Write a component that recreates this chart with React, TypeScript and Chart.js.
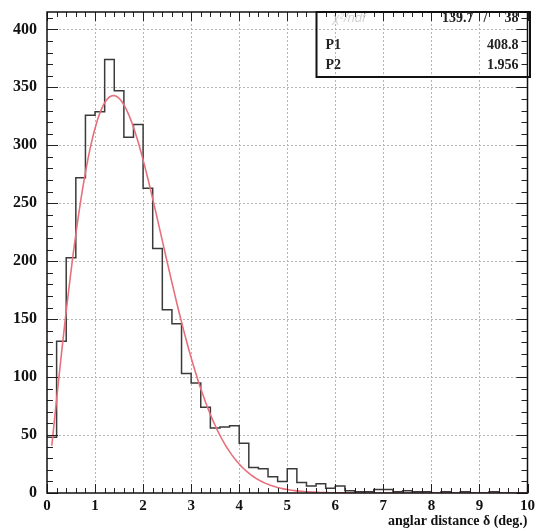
import React, { useEffect, useRef } from "react";
import { Chart, registerables } from "chart.js";

Chart.register(...registerables);

// Histogram: 50 bins of width 0.2 from 0 to 10
const binStart = 0;
const binWidth = 0.2;
const binCounts = [
  48, 131, 203, 272, 326, 329, 374, 347, 307, 318,
  263, 211, 158, 146, 103, 95, 74, 56, 57, 58,
  43, 22, 21, 14, 10, 21, 9, 6, 8, 4,
  6, 2, 1, 1, 3, 3, 1, 2, 1, 1,
  0, 1, 0, 1, 0, 0, 1, 0, 0, 0,
];

// Fit results (shown in stats box)
const chi2 = "139.7";
const ndf = "38";
const parNames = ["P1", "P2"];
const parValues = [408.8, 1.956];
const parLabels = ["408.8", "1.956"];

// Axis ticks
const xMajorTicks = [0, 1, 2, 3, 4, 5, 6, 7, 8, 9, 10];
const xMinorStep = 0.2;
const yMajorTicks = [0, 50, 100, 150, 200, 250, 300, 350, 400];
const yMinorStep = 10;
const xMin = 0;
const xMax = 10;
const yMin = 0;
const yMax = 415;
const xTitle = "anglar distance \u03b4 (deg.)";

const fitFrom = 0.1;
const fitTo = 10;
const fitStep = 0.05;

function fitFn(x: number) {
  const [p1, p2] = parValues;
  return p1 * x * Math.exp(-(x / p2) * (x / p2));
}

const SERIF = "'Liberation Serif', 'Times New Roman', serif";

const decorPlugin = {
  id: "rootDecor",
  beforeDatasetsDraw(chart: any) {
    const { ctx, chartArea: a, scales } = chart;
    const xs = scales.x;
    const ys = scales.y;
    ctx.save();
    ctx.strokeStyle = "#b5b5b5";
    ctx.lineWidth = 1;
    ctx.setLineDash([2, 2]);
    ctx.beginPath();
    for (const v of xMajorTicks) {
      if (v <= xMin || v >= xMax) continue;
      const px = Math.round(xs.getPixelForValue(v)) + 0.5;
      ctx.moveTo(px, a.top);
      ctx.lineTo(px, a.bottom);
    }
    for (const v of yMajorTicks) {
      if (v <= yMin || v >= yMax) continue;
      const py = Math.round(ys.getPixelForValue(v)) + 0.5;
      ctx.moveTo(a.left, py);
      ctx.lineTo(a.right, py);
    }
    ctx.stroke();
    ctx.restore();
  },
  afterDatasetsDraw(chart: any) {
    const { ctx, chartArea: a, scales } = chart;
    const xs = scales.x;
    const ys = scales.y;
    ctx.save();
    ctx.setLineDash([]);
    ctx.strokeStyle = "#222";
    ctx.lineWidth = 1;
    ctx.beginPath();
    // x ticks (bottom and top, inward)
    const nx = Math.round((xMax - xMin) / xMinorStep);
    for (let i = 0; i <= nx; i++) {
      const v = xMin + i * xMinorStep;
      const major = Math.abs(v - Math.round(v)) < 1e-6;
      const len = major ? 9 : 5;
      const px = Math.round(xs.getPixelForValue(v)) + 0.5;
      ctx.moveTo(px, a.bottom);
      ctx.lineTo(px, a.bottom - len);
      ctx.moveTo(px, a.top);
      ctx.lineTo(px, a.top + len);
    }
    // y ticks (left and right, inward)
    for (let v = yMin; v <= yMax; v += yMinorStep) {
      const major = v % 50 === 0;
      const len = major ? 11 : 6;
      const py = Math.round(ys.getPixelForValue(v)) + 0.5;
      ctx.moveTo(a.left, py);
      ctx.lineTo(a.left + len, py);
      ctx.moveTo(a.right, py);
      ctx.lineTo(a.right - len, py);
    }
    ctx.stroke();

    // frame
    ctx.lineWidth = 1.5;
    ctx.strokeStyle = "#111";
    ctx.strokeRect(a.left, a.top, a.right - a.left, a.bottom - a.top);

    // stats box
    const bl = a.right - 211;
    const br = a.right + 2.5;
    const bt = a.top;
    const bb = a.top + 65;
    ctx.lineWidth = 2;
    ctx.strokeStyle = "#111";
    ctx.strokeRect(bl, bt, br - bl, bb - bt);

    ctx.textBaseline = "middle";
    ctx.font = `italic 13px 'Liberation Sans', sans-serif`;
    ctx.fillStyle = "#d4d4d4";
    ctx.textAlign = "left";
    ctx.fillText("\u03c7\u00b2/ndf", bl + 16, bt + 6);

    ctx.font = `bold 14px ${SERIF}`;
    ctx.fillStyle = "#222";
    ctx.textAlign = "right";
    ctx.fillText(chi2, a.right - 54, bt + 6);
    ctx.textAlign = "center";
    ctx.fillText("/", a.right - 42, bt + 6);
    ctx.textAlign = "right";
    ctx.fillText(ndf, a.right - 9, bt + 6);

    const rowY = [bt + 33, bt + 53.5];
    parNames.forEach((n, i) => {
      ctx.textAlign = "left";
      ctx.fillText(n, bl + 9, rowY[i]);
      ctx.textAlign = "right";
      ctx.fillText(parLabels[i], a.right - 9, rowY[i]);
    });
    ctx.restore();
  },
};

export default function App() {
  const ref = useRef<HTMLCanvasElement | null>(null);

  useEffect(() => {
    if (!ref.current) return;
    const histPts = binCounts.map((c, i) => ({ x: binStart + i * binWidth, y: c }));
    histPts.push({ x: binStart + binCounts.length * binWidth, y: binCounts[binCounts.length - 1] });

    const fitPts: { x: number; y: number }[] = [];
    const n = Math.round((fitTo - fitFrom) / fitStep);
    for (let i = 0; i <= n; i++) {
      const x = fitFrom + i * fitStep;
      fitPts.push({ x, y: fitFn(x) });
    }

    const chart = new Chart(ref.current, {
      type: "line",
      data: {
        datasets: [
          {
            data: histPts,
            stepped: "before",
            borderColor: "#3a3a3a",
            borderWidth: 1.5,
            pointRadius: 0,
            fill: false,
            order: 2,
          },
          {
            data: fitPts,
            borderColor: "#e8707c",
            borderWidth: 1.6,
            pointRadius: 0,
            tension: 0,
            fill: false,
            order: 1,
          },
        ],
      },
      options: {
        animation: false,
        responsive: false,
        parsing: false as any,
        layout: { padding: { top: 12, right: 11.5, left: 0, bottom: 0 } },
        plugins: { legend: { display: false }, tooltip: { enabled: false } },
        scales: {
          x: {
            type: "linear",
            min: xMin,
            max: xMax,
            grid: { display: false, drawTicks: false },
            border: { display: false },
            ticks: {
              stepSize: 1,
              autoSkip: false,
              includeBounds: false,
              maxRotation: 0,
              padding: 4,
              color: "#111",
              font: { family: SERIF, size: 15, weight: "bold" },
            },
            title: {
              display: true,
              text: xTitle,
              align: "end",
              color: "#111",
              padding: { top: 0, bottom: 1 },
              font: { family: SERIF, size: 14, weight: "bold" },
            },
            afterFit: (s: any) => {
              s.height = 38;
              s.paddingLeft = 0;
              s.paddingRight = 0;
            },
          },
          y: {
            type: "linear",
            min: yMin,
            max: yMax,
            grid: { display: false, drawTicks: false },
            border: { display: false },
            ticks: {
              stepSize: 50,
              autoSkip: false,
              includeBounds: false,
              padding: 10,
              color: "#111",
              font: { family: SERIF, size: 16, weight: "bold" },
            },
            afterFit: (s: any) => {
              s.width = 47;
              s.paddingTop = 0;
              s.paddingBottom = 0;
            },
          },
        },
      },
      plugins: [decorPlugin],
    });
    return () => chart.destroy();
  }, []);

  return (
    <div style={{ position: "absolute", left: 0, top: 0, width: 539, height: 531, background: "#fff" }}>
      <canvas ref={ref} width={539} height={531} />
    </div>
  );
}
